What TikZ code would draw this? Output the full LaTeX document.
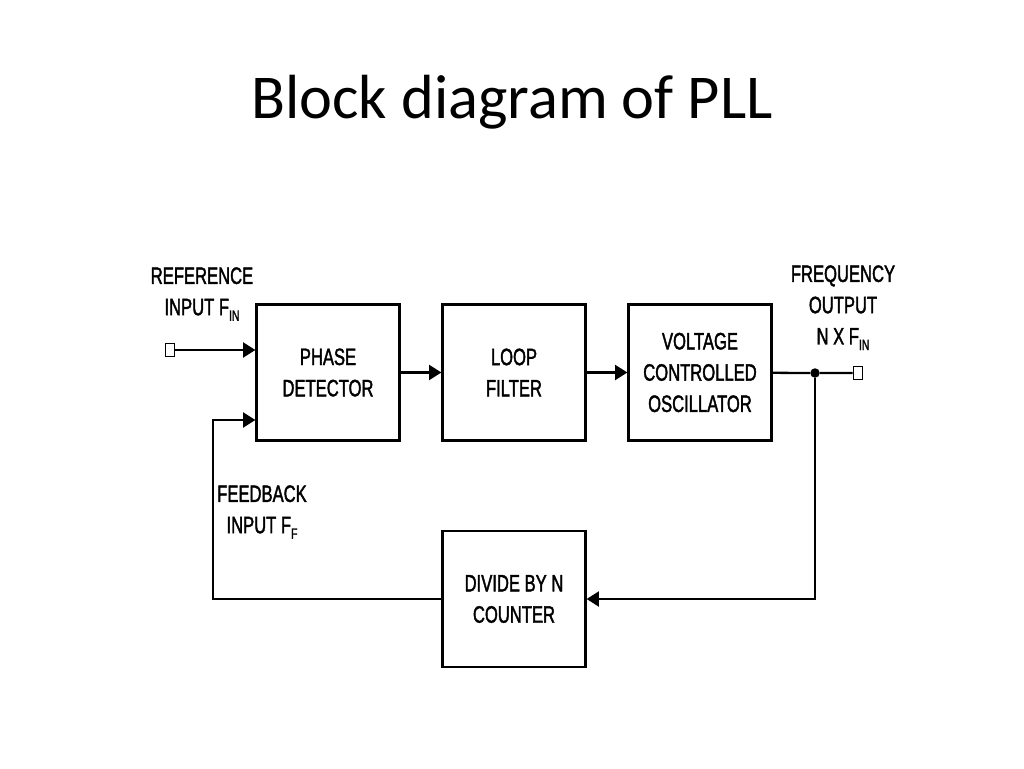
\documentclass[tikz,border=0pt]{standalone}
\usepackage{fontspec}
\setmainfont{Liberation Sans}
\newfontfamily\titlefont{Carlito}
\newfontfamily\blockfont[FakeStretch=0.7,FakeBold=1.6]{Liberation Sans}
\usetikzlibrary{arrows.meta,positioning}
\newcommand{\lowtxt}[1]{\raisebox{-0.45ex}{\fontsize{8.5}{8.5}\selectfont #1}}

\begin{document}
\begin{tikzpicture}[x=0.02cm, y=-0.02cm,
    block/.style={rectangle, draw, line width=1.3pt, minimum width=2.86cm, minimum height=2.72cm, align=center, font=\blockfont\fontsize{13.5}{17.8}\selectfont},
    iolabel/.style={align=center, inner sep=0pt, anchor=north, font=\blockfont\fontsize{13.5}{17.8}\selectfont},
    port/.style={rectangle, draw, line width=0.9pt, minimum width=0.18cm, minimum height=0.26cm, inner sep=0pt, fill=white},
    tap/.style={circle, fill, inner sep=0pt, minimum size=0.19cm},
    arrow/.style={-{Triangle[length=7pt,width=8.5pt]}, line width=1.3pt},
    wire/.style={line width=1.3pt}
]
\useasboundingbox[fill=white] (0,0) rectangle (1024,768);

% Title
\node[font=\titlefont\fontsize{35.5}{38}\selectfont, anchor=base] at (512,118) (title) {Block diagram of PLL};

% Blocks
\node[block] at (328,372.5) (phase) {PHASE\\DETECTOR};
\node[block] at (514,372.5) (loop) {LOOP\\FILTER};
\node[block] at (700,372.5) (vco) {VOLTAGE\\CONTROLLED\\OSCILLATOR};
\node[block] at (514,599) (divide) {DIVIDE BY N\\COUNTER};

% Ports and labels
\node[port] at (170,350) (refin) {};
\node[port] at (858,373) (fout) {};
\node[tap] at (815,373) (split) {};
\coordinate (fbturn) at (213,420);
\node[iolabel] at (202,267) (reflabel) {REFERENCE\\INPUT F\lowtxt{IN}};
\node[iolabel] at (843,265) (outlabel) {FREQUENCY\\OUTPUT\\N X F\lowtxt{IN}};
\node[iolabel] at (262,485) (fblabel) {FEEDBACK\\INPUT F\lowtxt{F}};

% Arrows
\draw[arrow] (refin) -- (phase.west |- refin);
\draw[arrow] (phase) -- (loop);
\draw[arrow] (loop) -- (vco);
\draw[wire] (vco) -- (split) -- (fout);
\draw[arrow] (split) |- (divide.east);
\draw[arrow] (divide.west) -| (fbturn) -- (phase.west |- fbturn);

\end{tikzpicture}
\end{document}
